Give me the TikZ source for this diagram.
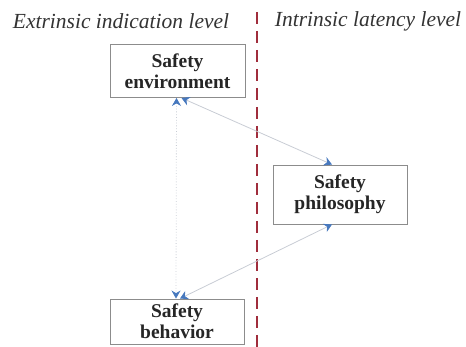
\documentclass[tikz,border=0pt]{standalone}
\usepackage{fontspec}
\setmainfont{Liberation Serif}
\usetikzlibrary{arrows.meta}
\definecolor{linkgray}{RGB}{200,204,212}
\definecolor{tipblue}{RGB}{70,120,190}
\definecolor{borderred}{RGB}{160,45,60}
\tikzset{
  % boxes for the three safety factors
  factor/.style={draw=black!45,line width=0.9pt,fill=white,align=center,
    font=\fontsize{19.5}{21}\selectfont\bfseries,text=black!85,inner sep=0pt},
  % light links with small blue tips at both ends
  link/.style={draw=linkgray,line width=0.8pt,
    {Stealth[color=tipblue,length=8pt,width=9pt]}-{Stealth[color=tipblue,length=8pt,width=9pt]}},
  levelname/.style={font=\fontsize{21.5}{24}\selectfont\itshape,text=black!80},
}

\begin{document}
\begin{tikzpicture}[x=1pt,y=-1pt]
\useasboundingbox (0,0) rectangle (466,347);
\node[levelname] (ext) at (121,21){Extrinsic indication level};
\node[levelname] (int) at (368,21){Intrinsic latency level};
\draw [borderred,line width=2pt,dash pattern=on 12pt off 7pt](257,12)--(257,347);
\node[factor,minimum width=135,minimum height=53] (env) at (177.5,71){Safety\\environment};
\node[factor,minimum width=134,minimum height=59] (phil) at (340,194.5){Safety\\philosophy};
\node[factor,minimum width=134,minimum height=45] (beh) at (177,321.5){Safety\\behavior};
\draw [link,dotted] ([xshift=-1pt]env.south)--([xshift=-1pt]beh.north);
\draw [link] ([xshift=4pt]env.south)--([xshift=-8pt]phil.north);
\draw [link] ([xshift=-8pt]phil.south)--([xshift=3pt]beh.north);
\end{tikzpicture}
\end{document}
